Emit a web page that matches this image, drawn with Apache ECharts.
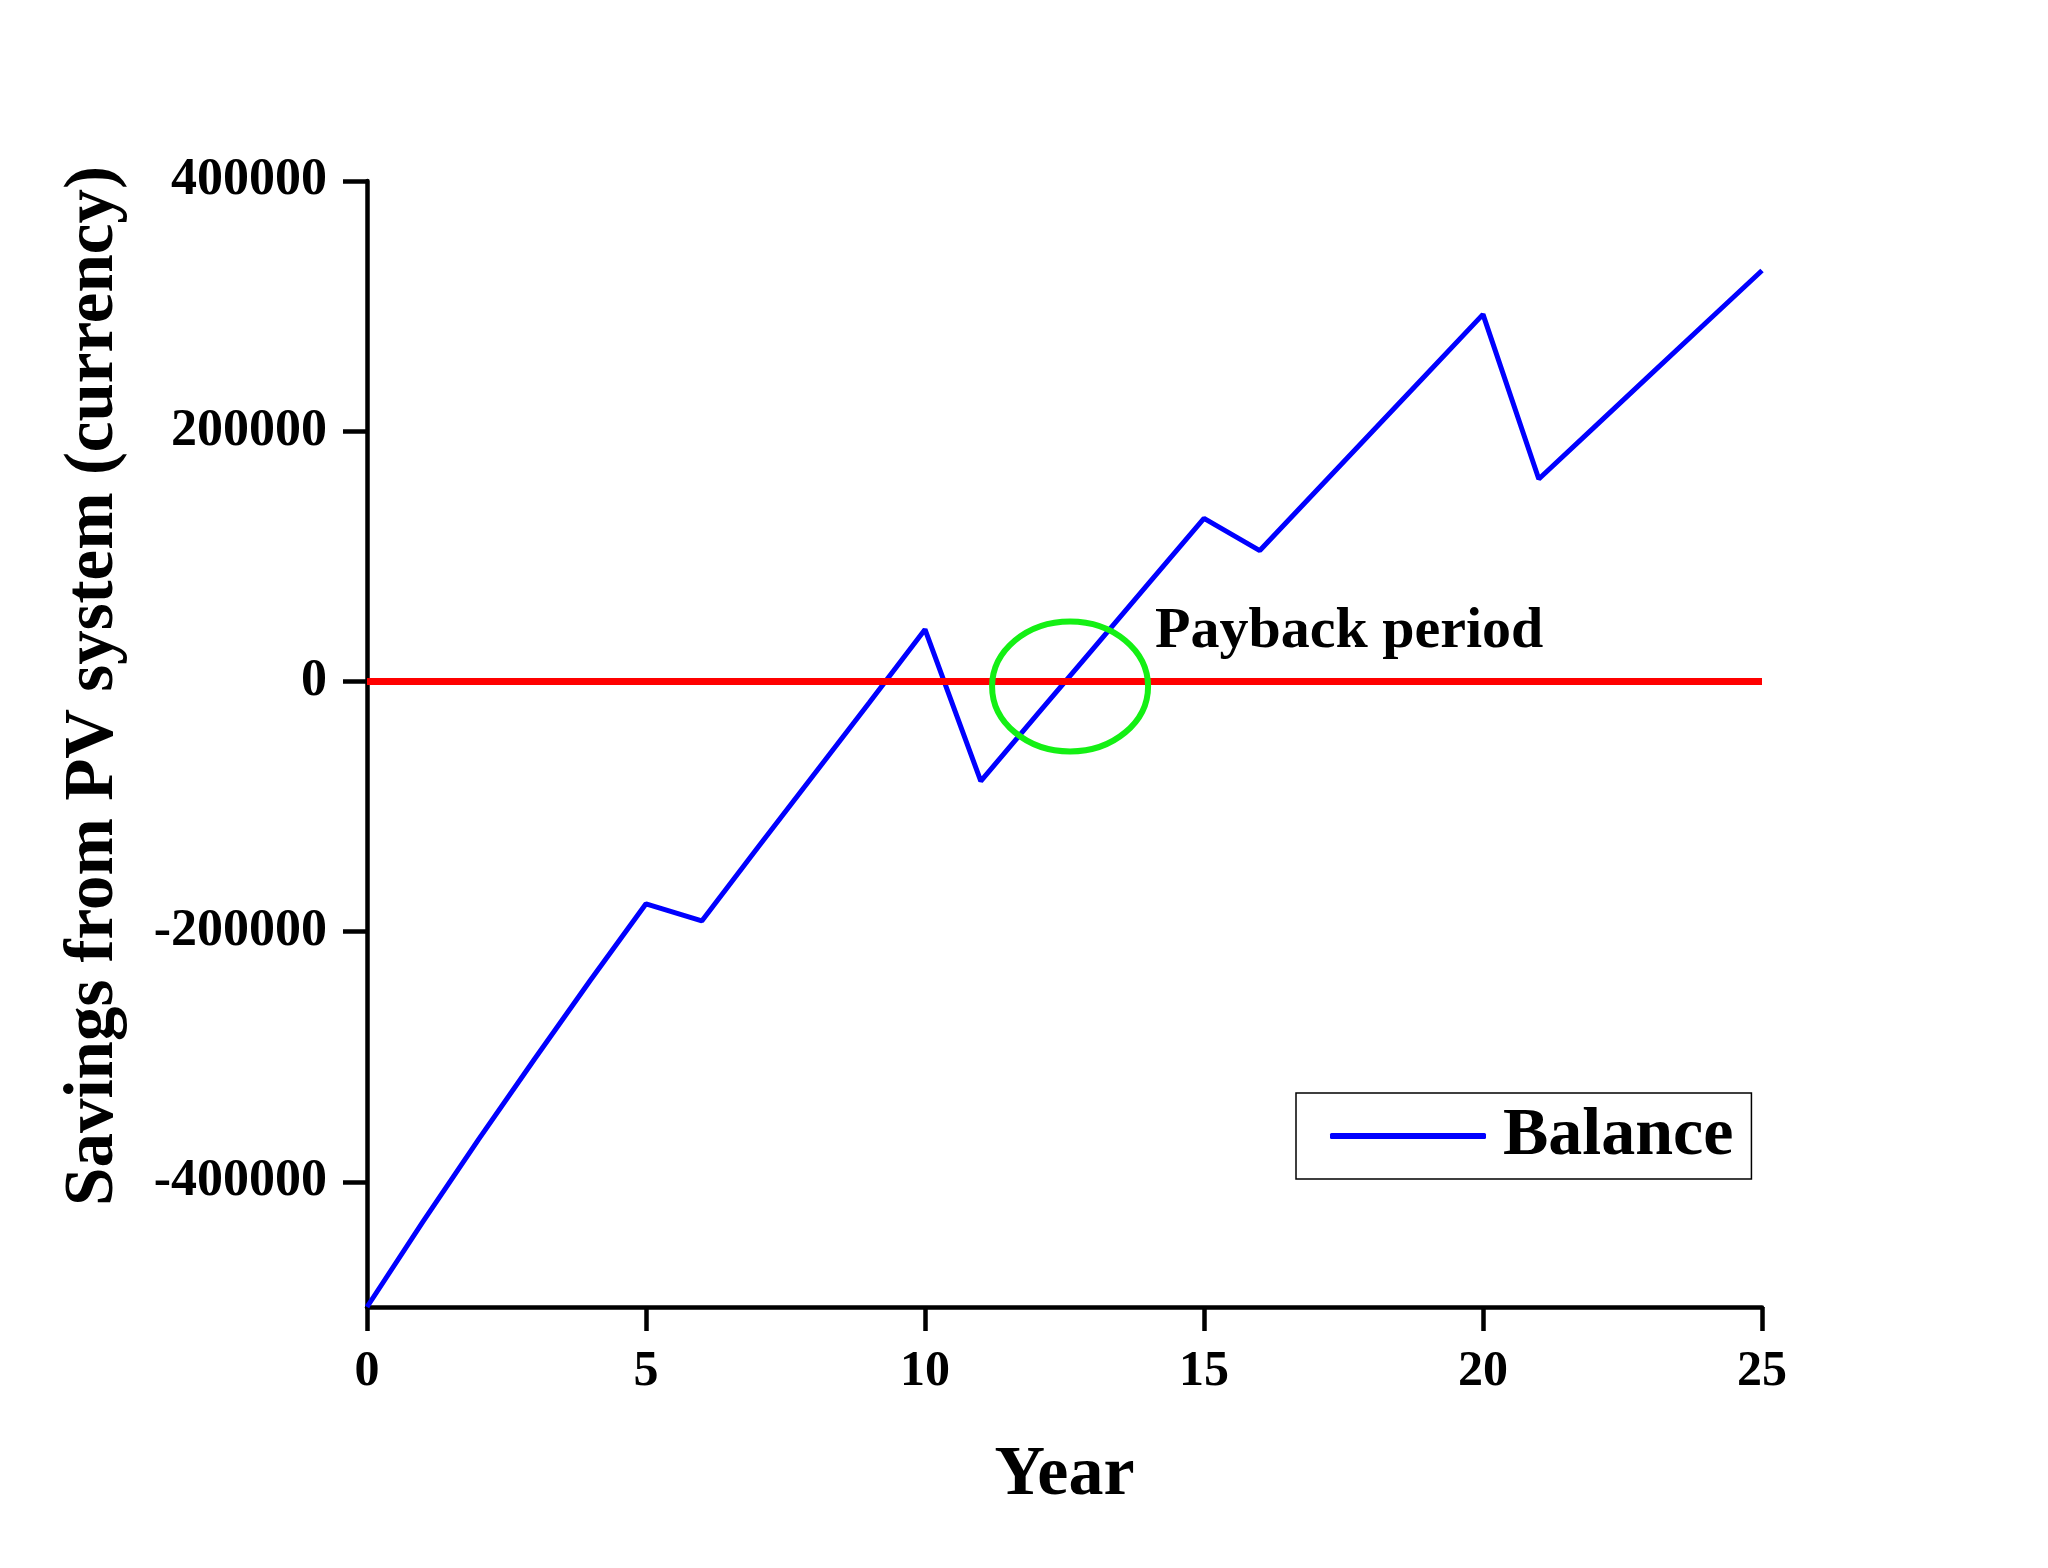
<!DOCTYPE html>
<html>
<head>
<meta charset="utf-8">
<script src="https://cdn.jsdelivr.net/npm/echarts@6/dist/echarts.min.js"></script>
<style>html,body{margin:0;padding:0;background:#fff}#c{width:2048px;height:1568px}</style>
</head>
<body>
<div id="c"></div>
<script>
// ---- data ----
const years = [0,1,2,3,4,5,6,7,8,9,10,11,12,13,14,15,16,17,18,19,20,21,22,23,24,25];
const balance = [-500000,-432000,-366000,-302000,-239000,-177700,-191400,-133000,-75000,-17000,41600,-79700,-27000,25500,78000,130300,104600,151800,199000,246200,293400,161800,203500,245200,286900,328500];
const zeroLineX = [0,25];
const zeroLineY = [0,0];
const yTicks = [-400000,-200000,0,200000,400000];
const xTicks = [0,5,10,15,20,25];
const paybackCenter = [12.6,-4000];
const paybackLabel = 'Payback period';
const seriesName = 'Balance';
const xTitle = 'Year';
const yTitle = 'Savings from PV system (currency)';

const FONT = "'Liberation Serif','Times New Roman',serif";
const chart = echarts.init(document.getElementById('c'), null, {renderer:'canvas'});
const option = {
  backgroundColor:'#ffffff',
  animation:false,
  grid:{left:367, top:181, width:1395, height:1126, containLabel:false},
  xAxis:{
    type:'value', min:0, max:25, interval:5,
    name:xTitle, nameLocation:'middle', nameGap:134,
    nameTextStyle:{fontFamily:FONT, fontWeight:'bold', fontSize:70, color:'#000'},
    axisLine:{onZero:false, lineStyle:{color:'#000', width:4.5}},
    axisTick:{show:true, length:24, lineStyle:{color:'#000', width:4.5}, customValues:xTicks},
    axisLabel:{fontFamily:FONT, fontWeight:'bold', fontSize:50, color:'#000', margin:40, customValues:xTicks,
      formatter:function(v){return String(v);}},
    splitLine:{show:false}
  },
  yAxis:{
    type:'value', min:-500000, max:400000, interval:100000,
    axisLine:{lineStyle:{color:'#000', width:4.5}},
    axisTick:{show:true, length:24, lineStyle:{color:'#000', width:4.5}, customValues:yTicks},
    axisLabel:{fontFamily:FONT, fontWeight:'bold', fontSize:52, color:'#000', margin:40, customValues:yTicks,
      formatter:function(v){return String(v);}},
    splitLine:{show:false}
  },
  legend:{
    data:[{name:seriesName, icon:'roundRect'}],
    left:1296, top:1093,
    orient:'vertical',
    padding:[8,18,8,34],
    borderColor:'#000', borderWidth:1.5,
    backgroundColor:'#fff',
    itemWidth:156, itemHeight:6,
    itemStyle:{color:'#0000ff', borderWidth:0},
    textStyle:{fontFamily:FONT, fontWeight:'bold', fontSize:68, color:'#000', lineHeight:70, padding:[0,0,0,12]}
  },
  series:[
    {
      name:seriesName, type:'line', symbol:'none', z:2,
      data:years.map((y,i)=>[y,balance[i]]),
      lineStyle:{color:'#0000ff', width:5}, itemStyle:{color:'#0000ff'}
    },
    {
      name:'zero', type:'line', symbol:'none', z:3, silent:true,
      data:zeroLineX.map((x,i)=>[x,zeroLineY[i]]),
      lineStyle:{color:'#ff0000', width:7}, itemStyle:{color:'#ff0000'}
    },
    {
      name:'payback', type:'custom', z:4, silent:true,
      data:[paybackCenter],
      renderItem:function(params, api){
        const c = api.coord([api.value(0), api.value(1)]);
        return {
          type:'group',
          children:[
            {type:'ellipse', shape:{cx:c[0], cy:c[1], rx:78, ry:65},
             style:{fill:'none', stroke:'#14f014', lineWidth:6}}
          ]
        };
      }
    }
  ],
  graphic:[
    {type:'text', left:1155, top:603, z:10,
     style:{text:paybackLabel, font:"bold 58px 'Liberation Serif', serif", fill:'#000'}},
    {type:'text', x:94, y:686, rotation:Math.PI/2, z:10,
     style:{text:yTitle, font:"bold 69px 'Liberation Serif', serif", fill:'#000', align:'center', verticalAlign:'middle'}}
  ]
};
chart.setOption(option);
</script>
</body>
</html>
